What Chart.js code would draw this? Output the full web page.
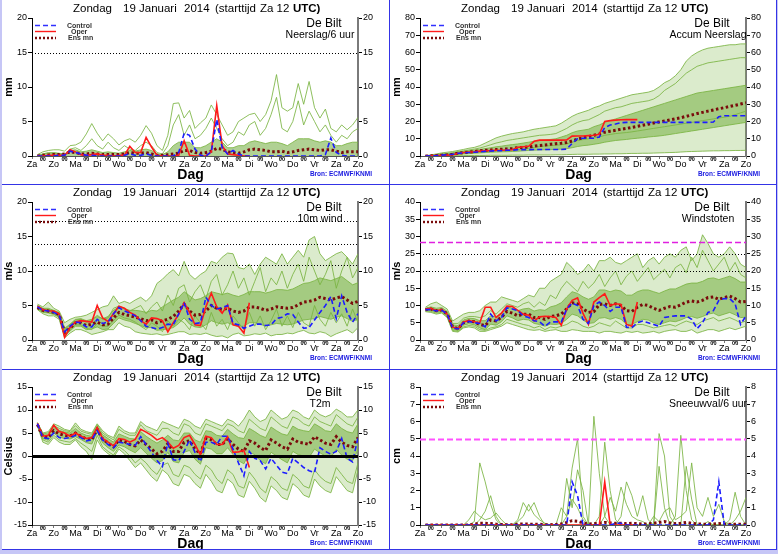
<!DOCTYPE html>
<html>
<head>
<meta charset="utf-8">
<script src="https://cdn.jsdelivr.net/npm/chart.js@4.4.1/dist/chart.umd.min.js"></script>
<style>
  body { margin: 0; background: #fff; }
  #wrap { position: relative; width: 778px; height: 554px; overflow: hidden; }
  canvas { position: absolute; }
  .ln { position: absolute; background: #3434e6; z-index: 2; }
  .lav { position: absolute; background: #c6c6f6; z-index: 1; }
</style>
</head>
<body>
<div id="wrap">
  <canvas id="p1" width="387" height="183" style="left:1px;top:1px"></canvas>
  <canvas id="p2" width="387" height="183" style="left:389px;top:1px"></canvas>
  <canvas id="p3" width="387" height="183" style="left:1px;top:185px"></canvas>
  <canvas id="p4" width="387" height="183" style="left:389px;top:185px"></canvas>
  <canvas id="p5" width="387" height="183" style="left:1px;top:370px"></canvas>
  <canvas id="p6" width="387" height="183" style="left:389px;top:370px"></canvas>
  <div class="lav" style="left:0;top:0;width:2px;height:554px"></div>
  <div class="lav" style="left:777px;top:0;width:1px;height:554px"></div>
  <div class="lav" style="left:0;top:550px;width:778px;height:4px"></div>
  <div class="ln" style="left:776px;top:0;width:1px;height:550px"></div>
  <div class="ln" style="left:2px;top:549px;width:775px;height:1px"></div>
  <div class="ln" style="left:389px;top:0;width:1px;height:550px"></div>
  <div class="ln" style="left:2px;top:184px;width:775px;height:1px"></div>
  <div class="ln" style="left:2px;top:369px;width:775px;height:1px"></div>
</div>
<script>
// forecast hours after start (Za 12 UTC), 6-hourly
const hours = [6,12,18,24,30,36,42,48,54,60,66,72,78,84,90,96,102,108,114,120,
  126,132,138,144,150,156,162,168,174,180,186,192,198,204,210,216,222,228,234,240,
  246,252,258,264,270,276,282,288,294,300,306,312,318,324,330,336,342,348,354,360];
const dayNames = ["Za","Zo","Ma","Di","Wo","Do","Vr","Za","Zo","Ma","Di","Wo","Do","Vr","Za","Zo"];

// ---- Neerslag / 6 uur (mm)
const precCtl = [0,0,0,0,0.1,0.1,0.7,0.5,0.3,0.1, 0.1,0,0,0,0,0,0.1,0.3,0.1,0.1,
  0.3,0.1,0,0,0,0,0.5,3.3,3.0,1.0, 0.1,0,0.6,5.3,1.2,0.3,0.8,0.3,0,0,
  0,0,0,0,0,0,0,0,0,0, 0,0,0,0.2,2.6,0.5,0.1,0,0,0];
const precOper = [0,0,0.1,0.1,0.1,0.1,0.9,0.6,0.2,0.1, 0.2,0.3,0.1,0.1,0,0.1,0.1,1.4,0.5,0.5,
  2.7,1.3,0.1,0,0,0,0.1,2.2,0.1,0, 0,0,0.6,7.3,1.5,0.3,0.2,0.1,0,0];
const precMean = [0,0.1,0.15,0.2,0.2,0.3,0.6,0.5,0.3,0.3, 0.4,0.3,0.2,0.2,0.2,0.2,0.3,0.5,0.4,0.4,
  0.5,0.3,0.1,0.1,0.2,0.3,0.4,0.8,0.8,0.5, 0.4,0.5,0.7,1.1,1.0,0.6,0.5,0.4,0.6,0.9,
  1.0,0.9,0.8,0.6,0.6,0.7,0.5,0.6,0.8,0.9, 1.0,0.9,0.8,0.9,0.9,0.7,0.5,0.6,0.6,0.6];
const precHi = [0.2,0.6,0.8,0.9,0.9,0.7,1.5,1.6,2.0,3.2, 4.7,3.3,2.2,3.2,2.5,1.6,2.2,2.5,2.0,3.0,
  4.4,3.3,1.5,0.8,3.0,7.6,7.7,5.5,6.6,4.0, 4.8,5.5,7.4,6.0,4.5,3.0,3.5,5.0,5.5,6.0,
  6.2,5.0,6.0,8.0,11.8,7.0,6.5,7.0,10.5,7.5, 10.8,7.0,5.5,6.8,4.0,3.5,4.5,3.8,4.5,5.6];
const precMid = [0,0.3,0.5,0.4,0.3,0.2,1.0,1.2,0.8,1.5, 2.5,1.5,1.0,2.0,1.2,0.8,1.5,1.0,0.8,1.5,
  2.0,1.5,0.5,0.3,1.5,4.5,6.0,3.0,4.5,2.5, 3.0,4.0,5.5,4.0,2.5,1.5,2.0,3.5,3.0,4.5,
  5.0,3.0,4.0,6.0,8.5,4.0,3.5,5.0,8.0,4.5, 6.5,5.0,3.5,4.5,3.0,2.0,3.0,2.5,3.5,4.0];
const precCore = [0.05,0.3,0.4,0.5,0.4,0.3,0.8,0.9,0.6,0.7, 0.9,0.7,0.5,0.6,0.5,0.4,0.6,0.8,0.7,0.9,
  1.0,0.8,0.3,0.2,0.6,1.5,2.0,2.0,2.0,1.2, 1.2,1.5,2.0,2.5,2.0,1.2,1.2,1.5,1.5,2.0,
  2.2,2.0,1.8,2.0,2.0,1.8,1.5,2.0,2.5,2.5, 2.5,2.2,2.0,2.2,2.0,1.5,1.5,1.8,2.0,2.0];

// ---- Accum neerslag (mm)
const accCtl = [0,0.1,0.2,0.5,0.8,1.0,1.5,1.8,2.0,2.2, 2.4,2.7,2.9,3.0,3.1,3.3,3.4,3.6,3.7,3.7,
  3.8,3.8,3.8,3.8,3.8,3.8,4.0,7.3,10.0,10.3, 10.3,10.3,11.0,16.5,18.0,18.5,19.3,19.5,19.5,19.5,
  19.5,19.5,19.5,19.5,19.5,19.5,19.5,19.5,19.5,19.5, 19.5,19.5,19.5,19.7,22.8,23.3,23.3,23.3,23.3,23.3];
const accOper = [0,0.1,0.2,0.3,0.5,0.7,1.5,2.0,2.3,2.5, 2.8,3.0,3.2,3.3,3.3,3.5,3.6,5.0,5.4,5.6,
  8.5,9.2,9.2,9.2,9.2,9.2,9.3,11.5,11.6,11.6, 11.8,12.0,12.6,20.0,20.5,20.8,21.0,21.1,21.1,21.1];
const accMean = [0,0.1,0.3,0.5,0.7,1.0,1.6,2.0,2.3,2.6, 3.0,3.3,3.5,3.7,3.9,4.1,4.4,4.8,5.0,5.2,
  5.7,6.1,6.4,6.8,7.1,7.4,7.8,8.7,9.8,10.6, 11.2,12.0,12.8,13.8,14.4,14.9,15.5,16.0,16.6,17.2,
  17.8,18.4,19.1,19.7,20.3,20.9,21.6,22.2,23.0,23.8, 24.6,25.3,26.0,26.7,27.4,28.0,28.7,29.4,30.1,30.9];
const accHi = [0.2,0.6,1.2,1.8,2.2,2.6,3.2,3.8,4.5,5.0, 6.0,7.5,9.0,10.5,11.5,12.3,13.0,13.5,14.0,14.8,
  15.5,16.0,16.5,17.0,17.5,19.0,21.0,23.0,24.5,25.5, 26.5,28.0,29.0,30.5,31.5,32.5,33.5,34.5,35.5,36.0,
  36.5,37.0,38.0,40.0,42.5,44.0,46.5,50.0,55.0,58.0, 60.0,61.5,62.5,63.0,63.5,64.0,64.5,64.5,65.0,65.0];
const accQ75 = [0.1,0.3,0.6,0.9,1.2,1.5,2.2,2.6,3.0,3.4, 3.8,4.3,4.8,5.3,5.7,6.2,6.6,7.0,7.5,8.0,
  8.5,9.0,9.3,9.6,10.0,11.0,12.0,13.5,14.5,15.0, 15.5,17.0,18.0,19.5,20.5,21.5,22.5,23.5,24.5,25.5,
  26.5,27.5,28.5,29.5,30.5,31.5,32.5,33.5,34.5,35.5, 36.5,37.0,37.5,38.0,38.5,39.0,39.5,40.0,40.5,41.0];
const accQ25 = [0,0,0.1,0.2,0.3,0.5,0.9,1.2,1.4,1.6, 1.8,2.0,2.2,2.3,2.4,2.5,2.6,2.8,3.0,3.2,
  3.4,3.5,3.6,3.7,3.8,4.0,4.3,4.8,5.5,6.0, 6.3,6.8,7.3,8.0,8.5,9.0,9.3,9.6,10.0,10.3,
  10.6,11.0,11.3,11.6,12.0,12.5,13.0,13.5,14.0,14.5, 15.0,15.5,16.0,16.5,17.0,17.5,18.0,18.5,19.0,19.5];
const accLo = [0,0,0,0,0,0.1,0.2,0.2,0.3,0.3, 0.3,0.3,0.4,0.4,0.4,0.4,0.5,0.5,0.5,0.6,
  0.6,0.6,0.6,0.6,0.7,0.7,0.8,0.9,1.0,1.0, 1.0,1.1,1.1,1.2,1.2,1.3,1.3,1.4,1.5,1.5,
  1.6,1.6,1.7,1.8,1.9,2.0,2.1,2.3,2.5,2.6, 2.7,2.8,2.9,3.0,3.0,3.1,3.1,3.2,3.2,3.3];
const accM1 = [0.1,0.4,0.8,1.2,1.5,1.9,2.5,3.0,3.5,4.0, 4.6,5.5,6.5,7.5,8.2,9.0,9.5,10.0,10.5,11.0,
  11.5,12.0,12.2,12.5,13.0,14.5,16.0,18.0,19.5,20.5, 21.0,22.5,24.0,26.0,27.0,28.0,28.5,29.5,30.5,31.0,
  31.5,32.0,33.0,35.0,38.0,40.0,42.0,45.0,48.0,50.0, 52.0,53.0,54.0,54.5,55.0,55.5,56.0,56.5,57.0,57.0];
const accM2 = [0,0.1,0.2,0.4,0.6,0.8,1.2,1.5,1.8,2.0, 2.3,2.6,2.8,3.0,3.2,3.4,3.6,3.8,4.0,4.5,
  5.0,5.5,5.8,6.0,6.2,6.5,7.0,8.0,9.0,9.5, 10.0,10.5,11.0,12.0,12.5,13.0,13.3,13.6,14.0,14.5,
  15.0,15.5,16.0,16.5,17.0,17.5,18.0,18.5,19.0,19.5, 20.0,20.5,21.0,21.5,22.0,22.5,23.0,24.0,25.0,26.0];

// ---- 10m wind (m/s)
const windCtl = [4.8,4.3,4.2,4.0,3.6,1.2,2.0,2.6,2.5,1.9, 1.9,3.0,2.4,2.6,3.8,4.7,4.2,3.9,3.5,2.8,
  2.0,1.8,1.6,1.8,2.3,2.2,3.8,5.4,3.0,2.4, 2.5,6.2,5.0,4.5,4.7,5.0,2.4,2.2,1.7,2.0,
  2.3,2.3,2.1,2.2,3.1,3.3,3.8,3.7,2.6,1.7, 1.8,2.9,4.0,5.0,6.3,3.1,6.4,4.0,2.6,3.8];
const windOper = [4.9,4.4,4.2,4.2,3.8,0.4,1.8,2.6,2.8,2.7, 2.6,5.0,3.2,2.7,3.8,4.9,4.6,4.0,3.6,2.8,
  2.3,3.2,3.1,2.8,1.2,2.5,3.7,5.4,4.0,2.2, 2.1,4.8,6.8,4.8,3.9,5.1,2.2,2.0,1.0,5.4];
const windMean = [4.7,4.3,4.2,4.0,3.7,1.1,1.7,2.5,2.5,2.1, 2.3,2.6,2.2,2.3,3.2,4.0,3.7,3.5,3.3,3.1,
  2.8,2.9,2.5,2.8,3.0,3.4,4.2,5.2,4.2,3.6, 3.7,4.2,5.0,4.6,4.4,4.6,4.2,4.0,4.2,4.8,
  4.8,4.6,4.3,4.5,4.8,4.7,4.6,4.7,5.1,5.5, 5.6,5.8,6.2,6.0,5.8,6.1,6.3,5.8,5.3,5.6];
const windHi = [5.2,4.8,5.5,4.6,4.2,2.5,3.0,3.3,3.4,3.6, 4.0,4.4,4.8,5.0,6.4,5.3,5.6,5.3,5.8,6.2,
  5.6,6.4,8.2,8.8,9.6,10.2,9.3,11.4,9.5,8.8, 9.5,10.0,11.4,11.1,12.0,12.6,12.5,10.5,10.3,11.0,
  9.5,11.0,12.0,11.5,11.0,12.5,11.0,12.0,13.0,12.0, 14.5,15.0,12.5,11.5,12.0,12.5,12.8,12.0,11.0,12.5];
const windQ75 = [5.0,4.6,4.6,4.3,4.0,1.7,2.3,3.0,3.1,2.8, 3.0,3.4,3.1,3.4,4.3,4.8,4.5,4.3,4.3,4.2,
  4.0,4.3,4.2,4.8,5.3,5.8,6.2,7.0,6.4,5.8, 6.0,6.4,7.0,6.8,6.6,6.8,6.5,6.3,6.6,7.0,
  7.0,7.0,6.8,7.0,7.3,7.3,7.2,7.4,7.8,8.2, 8.3,8.6,9.0,8.8,8.6,8.9,9.2,8.6,8.0,8.3];
const windQ25 = [4.5,4.0,3.9,3.7,3.3,0.6,1.3,2.0,2.0,1.5, 1.6,1.9,1.5,1.6,2.4,3.2,2.9,2.7,2.4,2.1,
  1.8,1.8,1.4,1.5,1.6,1.8,2.4,3.2,2.3,1.9, 1.8,2.2,2.8,2.5,2.3,2.5,2.2,2.0,2.0,2.5,
  2.5,2.3,2.0,2.2,2.4,2.3,2.2,2.3,2.6,2.9, 3.0,3.1,3.4,3.2,3.0,3.3,3.5,3.1,2.7,3.0];
const windLo = [4.4,3.8,3.5,3.5,3.0,0.3,1.0,1.5,1.5,1.2, 0.8,1.0,1.2,1.5,1.5,2.5,2.0,1.8,1.2,1.0,
  0.9,0.8,0.9,0.7,0.8,1.0,1.2,1.2,0.8,0.9, 0.8,1.0,0.7,0.5,0.6,0.3,0.8,1.0,0.6,0.7,
  0.9,0.8,1.0,0.6,0.8,0.8,1.0,0.9,1.2,1.4, 1.0,0.9,1.2,1.0,0.5,0.9,1.2,1.5,1.0,1.8];
const windM1 = [5.0,4.5,4.4,4.2,3.9,1.5,2.2,2.9,3.0,2.6, 2.8,3.6,3.0,3.2,4.6,4.9,4.6,4.2,4.6,5.0,
  3.8,4.8,5.5,4.2,6.5,5.0,7.5,8.0,5.5,7.0, 8.0,6.0,8.5,9.5,6.5,8.0,10.0,7.5,9.0,6.5,
  8.5,10.5,7.0,9.0,8.0,10.0,7.5,9.5,11.0,8.5, 12.0,10.0,8.0,9.5,11.5,7.5,10.0,12.0,9.0,10.5];
const windM2 = [4.6,4.1,4.0,3.8,3.4,0.8,1.5,2.2,2.2,1.7, 1.5,2.4,2.0,2.0,2.8,3.6,3.2,3.0,2.6,2.0,
  1.5,2.5,2.0,1.2,2.8,2.0,3.0,2.5,1.5,3.5, 2.5,1.5,4.0,2.0,3.0,1.5,3.5,2.5,1.5,4.0,
  2.0,3.5,1.5,2.8,4.5,2.0,3.5,1.8,4.0,2.5, 2.0,5.0,3.0,2.0,4.0,2.5,3.8,2.0,4.5,2.5];

// ---- Windstoten (m/s)
const gustCtl = [8.8,8.8,8.4,8.6,7.6,3.5,3.2,5.0,5.4,5.0, 4.8,3.8,7.5,5.5,6.5,9.3,9.0,8.5,7.0,6.5,
  5.6,5.3,4.0,5.2,5.3,5.2,9.0,10.7,10.0,6.0, 4.8,10.0,11.0,10.0,8.3,9.5,9.5,3.7,3.6,5.0,
  5.5,5.0,4.5,4.0,6.5,6.8,7.0,7.0,7.0,6.0, 3.3,5.0,8.0,8.5,11.5,12.0,12.0,10.5,4.5,7.0];
const gustOper = [9.0,9.2,8.5,8.8,7.5,3.8,3.2,5.2,5.6,5.3, 5.0,9.5,9.5,6.5,7.8,9.8,9.7,8.6,7.5,7.2,
  5.5,6.7,6.9,6.8,6.5,4.3,9.0,11.5,12.2,7.7, 4.5,11.0,12.3,13.4,10.0,10.5,10.3,4.5,4.0,11.0];
const gustMean = [8.8,9.0,8.5,8.7,7.6,3.8,3.3,5.0,5.5,5.3, 4.5,4.2,5.8,5.5,6.6,8.3,7.8,7.0,7.5,7.5,
  6.5,6.5,6.0,6.8,7.0,7.5,9.0,10.8,10.5,9.0, 8.0,8.2,10.3,10.5,10.0,10.5,10.0,8.5,8.3,9.5,
  10.3,10.0,9.2,8.6,9.2,9.7,9.5,10.2,11.0,11.3, 11.0,11.5,12.3,12.5,11.8,12.3,12.7,12.0,11.0,11.2];
const gustHi = [9.5,10.5,11.0,10.0,9.0,5.5,6.5,7.5,8.0,8.0, 8.5,10.0,11.0,11.0,12.5,12.0,11.5,11.0,12.0,13.0,
  12.5,15.0,15.0,17.0,18.0,19.0,22.5,21.0,19.0,20.0, 22.0,20.0,23.0,23.0,24.0,22.5,22.0,23.0,24.0,25.0,
  21.0,23.0,24.0,22.0,24.0,25.0,24.0,26.0,27.0,23.0, 25.0,30.5,28.0,25.0,24.0,25.0,27.0,25.0,22.0,21.0];
const gustQ75 = [9.1,9.4,8.9,9.1,8.1,4.4,4.2,5.8,6.3,6.2, 5.6,5.6,7.0,6.8,7.9,9.6,9.2,8.5,9.0,9.2,
  8.4,8.8,8.6,9.6,10.0,10.8,12.5,14.0,13.5,12.5, 11.8,12.5,14.5,14.5,14.0,14.5,14.2,13.0,13.0,14.0,
  14.5,14.5,14.0,13.5,14.2,14.8,14.8,15.5,16.2,16.5, 16.5,17.0,17.8,18.0,17.5,18.0,18.5,17.8,16.8,16.8];
const gustQ25 = [8.5,8.6,8.1,8.3,7.1,3.2,2.7,4.3,4.7,4.4, 3.5,3.0,4.6,4.3,5.3,7.0,6.4,5.6,6.0,5.8,
  4.8,4.5,4.0,4.6,4.5,4.8,6.0,7.5,7.0,5.8, 4.8,5.0,6.3,6.5,6.0,6.5,6.0,4.5,4.5,5.3,
  6.0,5.8,5.0,4.5,5.0,5.5,5.3,5.8,6.5,6.8, 6.3,6.8,7.5,7.8,7.0,7.5,8.0,7.3,6.5,6.6];
const gustLo = [8.2,8.0,7.5,7.8,6.5,2.5,2.3,3.5,3.8,3.5, 2.5,2.5,3.0,3.5,4.0,5.0,4.5,4.0,3.5,3.0,
  2.8,3.0,2.5,2.8,3.0,2.5,2.5,3.0,2.8,2.5, 2.5,2.5,2.0,2.5,2.5,2.2,2.0,2.5,2.2,2.5,
  2.0,2.2,2.5,2.0,2.5,2.8,3.0,2.5,2.5,3.0, 2.0,2.5,3.0,3.0,2.5,3.0,3.5,3.0,3.5,4.0];
const gustM1 = [9.2,9.6,9.2,9.4,8.3,4.8,4.8,6.3,6.8,6.8, 6.5,7.0,8.5,7.5,9.0,10.5,10.0,9.5,10.5,11.0,
  9.5,11.0,10.0,13.0,12.0,15.0,17.0,15.5,14.0,17.0, 15.0,16.5,19.0,15.5,18.0,20.0,16.0,18.5,20.0,17.0,
  19.0,21.0,17.5,19.0,20.5,18.0,21.0,22.0,19.5,24.0, 21.0,26.0,23.0,20.0,22.0,24.0,20.0,22.5,19.0,18.0];
const gustM2 = [8.4,8.3,7.8,8.0,6.8,2.8,2.5,3.8,4.2,4.0, 3.0,2.8,3.5,3.8,4.5,6.0,5.5,5.0,4.5,4.2,
  3.5,4.0,3.0,3.8,3.5,4.0,4.5,5.5,5.0,4.0, 3.5,4.0,5.0,4.5,4.0,5.5,4.5,3.5,3.5,4.5,
  4.5,4.0,3.5,3.8,4.2,4.5,4.0,4.8,5.5,5.0, 4.5,5.5,6.0,6.5,5.5,6.0,6.5,5.8,5.0,5.5];

// ---- T2m (Celsius)
const tempCtl = [7.0,4.0,3.8,5.0,4.0,3.8,4.0,4.5,4.0,3.3, 3.5,5.5,3.5,2.5,1.8,3.0,2.8,2.5,2.3,4.2,
  2.5,0.8,-1.0,-2.3,2.8,-0.8,-1.0,1.0,3.5,0.8, -1.2,3.0,3.0,2.5,4.3,4.3,1.5,-1.5,-4.3,1.0,
  -0.5,-1.0,-2.8,-0.5,-2.0,-3.5,-3.8,-0.5,-1.5,-2.5, -3.2,-3.6,1.8,1.0,0.4,1.0,3.8,-0.5,-1.3,4.0];
const tempOper = [7.1,4.3,4.5,6.7,5.3,5.0,4.3,5.0,4.3,3.8, 4.0,6.2,3.8,3.0,2.2,3.8,3.6,3.0,3.6,5.8,
  5.2,4.5,3.5,4.0,3.0,1.7,2.3,4.0,4.5,2.5, 0.2,4.3,4.0,2.5,2.5,4.2,0.8,0.9,1.2,-2.5];
const tempMean = [6.8,4.2,4.0,5.5,4.8,4.5,4.3,5.0,4.3,3.7, 3.5,5.8,3.7,2.8,2.0,3.5,3.2,2.5,2.2,3.5,
  2.5,1.5,0.5,1.0,2.7,1.0,1.0,3.0,3.3,1.5, 0.5,3.8,3.5,2.5,2.5,3.8,2.5,1.5,1.0,3.3,
  2.8,1.8,1.2,3.5,2.8,2.0,1.5,3.7,3.0,2.8, 2.5,4.2,3.5,2.8,2.5,4.2,3.0,2.3,2.0,4.0];
const tempHi = [7.3,5.0,5.3,7.0,6.5,5.8,5.5,7.2,5.8,5.3, 5.0,7.0,5.5,4.5,4.0,6.5,5.5,5.0,5.0,7.5,
  6.5,6.0,5.5,7.5,7.0,6.5,6.0,8.0,7.5,6.5, 6.0,8.0,7.5,7.0,6.5,8.0,7.5,6.5,8.0,10.0,
  8.5,7.5,8.0,10.0,9.0,8.0,8.5,10.0,9.5,8.5, 8.0,10.0,9.0,8.5,9.0,10.2,9.5,8.5,8.5,10.0];
const tempQ75 = [7.0,4.6,4.6,6.2,5.6,5.2,5.0,6.0,5.0,4.5, 4.3,6.4,4.6,3.8,3.0,4.8,4.3,3.8,3.7,5.3,
  4.3,3.5,2.8,3.5,4.5,3.5,3.3,5.0,5.0,3.5, 3.0,5.5,5.3,4.5,4.3,5.8,4.8,4.0,3.8,6.0,
  5.3,4.5,4.0,6.3,5.5,4.8,4.5,6.5,5.8,5.5, 5.3,7.0,6.3,5.5,5.3,7.0,6.0,5.3,5.0,7.0];
const tempQ25 = [6.7,3.8,3.4,5.0,4.1,3.8,3.7,4.2,3.6,2.9, 2.6,5.2,2.8,1.8,1.0,2.4,2.0,1.3,0.7,1.8,
  0.6,-0.5,-1.5,-1.0,0.8,-1.2,-1.5,0.8,1.2,-0.7, -1.8,1.8,1.5,0.5,0.5,1.8,0.3,-1.0,-1.7,0.8,
  0.3,-1.0,-1.7,0.8,0.0,-0.8,-1.5,1.0,0.3,0.0, -0.3,1.5,0.7,0.0,-0.3,1.5,0.2,-0.7,-1.0,1.3];
const tempLo = [6.5,3.0,2.5,4.0,3.0,2.5,2.5,3.5,2.0,1.0, -0.8,3.5,1.5,0.5,-0.3,1.5,0.5,-1.0,-2.5,-1.5,
  -3.0,-4.5,-5.5,-3.0,-4.0,-6.0,-6.5,-4.0,-4.5,-6.0, -7.0,-4.0,-5.5,-7.5,-8.0,-5.0,-6.0,-8.5,-9.0,-5.5,
  -7.0,-9.0,-10.0,-6.5,-7.5,-9.0,-9.5,-6.0,-7.0,-8.5, -9.0,-5.0,-6.5,-7.5,-8.0,-4.5,-6.0,-7.5,-8.0,-3.0];
const tempM1 = [7.2,4.8,5.0,6.6,6.0,5.5,5.3,6.6,5.4,5.0, 4.7,6.8,5.0,4.2,3.5,5.8,5.0,4.5,4.5,6.8,
  5.5,5.0,4.5,6.0,6.0,5.0,4.5,7.0,6.5,5.0, 4.5,7.0,6.5,6.0,5.5,7.0,6.5,5.5,5.0,8.0,
  7.0,6.0,5.5,8.5,7.5,6.5,6.0,8.5,8.0,7.0, 6.5,8.5,7.5,7.0,6.5,9.0,8.0,7.0,6.5,8.5];
const tempM2 = [6.6,3.5,3.0,4.5,3.5,3.2,3.0,3.8,2.8,2.0, 1.0,4.5,2.0,1.0,0.2,2.0,1.2,0.0,-1.5,-0.5,
  -1.5,-3.0,-4.0,-2.0,-1.5,-4.0,-4.5,-2.0,-2.5,-4.0, -5.0,-2.0,-3.0,-5.0,-6.0,-3.0,-4.0,-6.5,-7.0,-3.5,
  -5.0,-7.0,-8.0,-4.5,-5.5,-7.0,-7.5,-4.0,-5.0,-6.5, -7.0,-3.0,-4.5,-5.5,-6.0,-2.5,-4.0,-5.5,-6.0,-1.5];

// ---- Sneeuwval / 6 uur (cm)
const snowCtl = [0,0,0,0,0,0,0,0,0,0, 0,0,0,0,0,0,0,0,0,0,
  0,0,0,0,0,0,0,2.5,1.7,0, 0,0,0,0,0,0.1,0.1,0,0,0,
  0,0,0,0,0,0,0,0,0,0, 0,0,0,0.3,2.5,0,0,0,0,0];
const snowOper = [0,0,0,0,0,0,0,0,0,0, 0,0,0,0,0,0,0,0,0,0,
  0,0,0,0,0,0,0,0,0,0, 0,0,0,2.5,0,0,0,0,0,0];
const snowMean = [0,0,0,0,0,0,0,0,0,0.05, 0.1,0.1,0.08,0.05,0.03,0.02,0.02,0.05,0.06,0.05,
  0.05,0.04,0.02,0.02,0.03,0.06,0.15,0.25,0.22,0.12, 0.05,0.08,0.1,0.15,0.12,0.1,0.1,0.08,0.1,0.08,
  0.05,0.06,0.1,0.15,0.2,0.12,0.08,0.1,0.15,0.1, 0.06,0.05,0.05,0.06,0.08,0.05,0.05,0.05,0.05,0.05];
const snowM1 = [0,0,0,0,0,0,0,0,0,0.2, 3.6,2.5,1.2,0.3,0,0,0,0,0,0,
  0,0,0,0,0,0,0,0,0,0, 0,6.3,3.0,0.5,0,0,0,0,0,0,
  0,0,0,5.3,4.0,0.5,0,0,0,0, 0,0,0,0,0,0,0.3,1.9,0.5,0];
const snowM2 = [0,0,0,0,0,0,0,0,0,0, 0,0,0,0,0,0,0,0.3,1.3,0.8,
  1.3,0.5,0,0,0,0,0.5,3.3,5.0,0.5, 0,0,0.5,4.8,2.0,0.3,0,0,0,0,
  0,0,0,0,0,0,0.5,5.2,2.0,0.3, 0,0,0.2,0,0,0,0,0,0,0];
const snowM3 = [0,0,0,0,0,0,0,0,0,0, 0.3,0.8,1.7,0.5,0,0,0,0,0,0,
  0,0,0,0,0,0,2.7,1.0,3.2,2.0, 0,0,0,0,0,0,0.5,2.5,1.7,0.5,
  1.7,0.3,0,3.4,1.0,0,0,0,3.4,1.5, 0,0,0,0,0,0,0,0,0,0];
const snowM4 = [0,0,0,0,0,0,0,0,0.3,0.8, 0.5,0.3,0.4,0.7,0.3,0,0,0.2,0.5,1.2,
  0.6,0.3,0.1,0,0,1.0,0.5,1.5,1.0,0.3, 0,0,0,0.5,1.6,0.8,2.2,1.2,0.5,0.3,
  0.2,0,0.5,0.2,0.8,1.0,0.3,0.5,0.8,3.6, 1.0,0.5,1.6,0.5,1.2,0.2,0,0.3,0.8,1.6];

// reference levels
const precRef = [15];
const windRef = [10.8, 13.9, 17.2];
const gustRef = [20, 25];
const gustWarn = [28.5];
const tempRef = [0];
const snowWarn = [5];

const FONT = "'Liberation Sans', Arial, sans-serif";
Chart.defaults.font.family = FONT;

const GREEN = "rgba(122,180,66,0.95)";
const OUTER = "rgba(136,190,86,0.3)";
const CORE = "rgba(112,172,58,0.55)";

function series(arr) {
  return arr.map((v, i) => ({ x: hours[i], y: v }));
}

function mainSets(ctl, oper, mean) {
  return [
    { data: series(ctl), borderColor: "#1c1cff", borderWidth: 1.6, borderDash: [5, 3] },
    { data: series(oper), borderColor: "#ff1a1a", borderWidth: 1.6 },
    { data: series(mean), borderColor: "#7a0c0c", borderWidth: 3, borderDash: [2.5, 2.5] },
  ];
}

function green(arr, fill, bg) {
  return { data: series(arr), borderColor: GREEN, borderWidth: 0.9, fill: fill, backgroundColor: bg };
}

// datasets 3..6 form the envelope, 7..8 are extra members
function bandSets(hi, q75, q25, lo, m1, m2) {
  return [
    green(hi, 6, OUTER),
    green(q75, 5, CORE),
    green(q25, false),
    green(lo, false),
    green(m1, false),
    green(m2, false),
  ];
}

const decor = {
  id: "decor",
  afterDatasetsDraw(chart, args, o) {
    const ctx = chart.ctx, a = chart.chartArea, y = chart.scales.y;
    ctx.save();
    o.refs.forEach((r) => {
      r.values.forEach((v) => {
        const py = Math.round(y.getPixelForValue(v)) + 0.5;
        ctx.beginPath();
        ctx.strokeStyle = r.color;
        ctx.lineWidth = r.width;
        ctx.setLineDash(r.dash);
        ctx.moveTo(a.left, py);
        ctx.lineTo(a.right, py);
        ctx.stroke();
      });
    });
    ctx.restore();
  },
  afterDraw(chart, args, o) {
    const ctx = chart.ctx, a = chart.chartArea, x = chart.scales.x;
    ctx.save();
    ctx.fillStyle = "#000";
    ctx.textBaseline = "alphabetic";

    // title
    ctx.textAlign = "left";
    ctx.font = "11.5px " + FONT;
    ctx.fillText("Zondag", 72, 11);
    ctx.fillText("19 Januari", 122, 11);
    ctx.fillText("2014", 183, 11);
    ctx.fillText("(starttijd", 214, 11);
    ctx.fillText("Za 12", 259, 11);
    const ux = 259 + ctx.measureText("Za 12").width + 3.5;
    ctx.font = "bold 11.5px " + FONT;
    ctx.fillText("UTC)", ux, 11);

    // station / parameter
    ctx.textAlign = "center";
    ctx.font = "12px " + FONT;
    ctx.fillText("De Bilt", 323, 26);
    ctx.font = "10.5px " + FONT;
    ctx.fillText(o.name, 319, 36.5);

    // legend
    const lx0 = a.left + 3, lx1 = a.left + 24;
    const leg = [
      { y: 24.5, c: "#3030ff", w: 1.6, d: [5, 3], t: "Control", tx: 66 },
      { y: 30.5, c: "#ff1a1a", w: 1.4, d: [], t: "Oper", tx: 70 },
      { y: 37, c: "#7a0c0c", w: 2.4, d: [2, 2], t: "Ens mn", tx: 67 },
    ];
    leg.forEach((l) => {
      ctx.beginPath();
      ctx.strokeStyle = l.c;
      ctx.lineWidth = l.w;
      ctx.setLineDash(l.d);
      ctx.moveTo(lx0, l.y);
      ctx.lineTo(lx1, l.y);
      ctx.stroke();
    });
    ctx.setLineDash([]);
    ctx.textAlign = "left";
    ctx.fillStyle = "#333";
    ctx.font = "bold 7px " + FONT;
    leg.forEach((l) => ctx.fillText(l.t, l.tx, l.y + 2));

    // x labels
    ctx.fillStyle = "#000";
    ctx.textAlign = "center";
    dayNames.forEach((d, i) => {
      ctx.font = "9px " + FONT;
      ctx.fillText(d, x.getPixelForValue(i * 24), 165.5);
      if (i < dayNames.length - 1) {
        ctx.font = "bold 5.5px " + FONT;
        ctx.fillText("00", x.getPixelForValue(i * 24 + 12), 160);
      }
    });
    ctx.font = "bold 14px " + FONT;
    ctx.fillText("Dag", 189.5, 177.5);

    // source
    ctx.textAlign = "right";
    ctx.fillStyle = "#1a1ae0";
    ctx.font = "bold 6.5px " + FONT;
    ctx.fillText("Bron: ECMWF/KNMI", 371, 175);

    // y title
    ctx.fillStyle = "#000";
    ctx.font = "bold 11px " + FONT;
    ctx.translate(11, (a.top + a.bottom) / 2);
    ctx.rotate(-Math.PI / 2);
    ctx.textAlign = "center";
    ctx.fillText(o.unit, 0, 0);
    ctx.restore();
  },
};

function yAxis(pos, min, max, step, borderColor, borderWidth, w) {
  return {
    position: pos,
    min: min,
    max: max,
    ticks: { stepSize: step, color: "#000", font: { size: 9 }, padding: 1 },
    grid: { drawOnChartArea: false, tickLength: 4, color: "#000" },
    border: { display: true, color: borderColor, width: borderWidth },
    afterFit: (s) => { s.width = w; },
  };
}

function makePanel(id, p) {
  new Chart(document.getElementById(id).getContext("2d"), {
    type: "line",
    data: { datasets: p.sets },
    options: {
      responsive: false,
      animation: false,
      events: [],
      layout: { padding: { top: 17, left: 0, right: 0, bottom: 0 } },
      elements: { point: { radius: 0 }, line: { tension: 0 } },
      plugins: {
        legend: { display: false },
        tooltip: { enabled: false },
        filler: { drawTime: "beforeDatasetsDraw" },
        decor: { name: p.name, unit: p.unit, refs: p.refs },
      },
      scales: {
        x: {
          type: "linear",
          min: 0,
          max: 360,
          ticks: { stepSize: 12, autoSkip: false, maxRotation: 0, callback: () => "" },
          grid: { drawOnChartArea: false, tickLength: 3, color: "#777" },
          border: { display: true, color: "#555", width: 1 },
          afterFit: (s) => { s.height = 28; },
        },
        y: yAxis("left", p.min, p.max, p.step, "#000", 1, 31),
        y2: yAxis("right", p.min, p.max, p.step, "#7a7a7a", 2, 30),
      },
    },
    plugins: [decor],
  });
}

const dotted = { color: "#000", width: 1, dash: [1, 2] };

makePanel("p1", {
  name: "Neerslag/6 uur", unit: "mm", min: 0, max: 20, step: 5,
  refs: [{ values: precRef, ...dotted }],
  sets: mainSets(precCtl, precOper, precMean).concat([
    green(precHi, false), green(precMid, false), green(precCore, "origin", CORE),
  ]),
});
makePanel("p2", {
  name: "Accum Neerslag", unit: "mm", min: 0, max: 80, step: 10, refs: [],
  sets: mainSets(accCtl, accOper, accMean).concat(bandSets(accHi, accQ75, accQ25, accLo, accM1, accM2)),
});
makePanel("p3", {
  name: "10m wind", unit: "m/s", min: 0, max: 20, step: 5,
  refs: [{ values: windRef, ...dotted }],
  sets: mainSets(windCtl, windOper, windMean).concat(bandSets(windHi, windQ75, windQ25, windLo, windM1, windM2)),
});
makePanel("p4", {
  name: "Windstoten", unit: "m/s", min: 0, max: 40, step: 5,
  refs: [{ values: gustRef, ...dotted }, { values: gustWarn, color: "#e020e0", width: 1.3, dash: [6, 3] }],
  sets: mainSets(gustCtl, gustOper, gustMean).concat(bandSets(gustHi, gustQ75, gustQ25, gustLo, gustM1, gustM2)),
});
makePanel("p5", {
  name: "T2m", unit: "Celsius", min: -15, max: 15, step: 5,
  refs: [{ values: tempRef, color: "#000", width: 3, dash: [] }],
  sets: mainSets(tempCtl, tempOper, tempMean).concat(bandSets(tempHi, tempQ75, tempQ25, tempLo, tempM1, tempM2)),
});
makePanel("p6", {
  name: "Sneeuwval/6 uur", unit: "cm", min: 0, max: 8, step: 1,
  refs: [{ values: snowWarn, color: "#ff50ff", width: 2, dash: [6, 3] }],
  sets: mainSets(snowCtl, snowOper, snowMean).concat([
    green(snowM1, false), green(snowM2, false), green(snowM3, false), green(snowM4, false),
  ]),
});
</script>
</body>
</html>
